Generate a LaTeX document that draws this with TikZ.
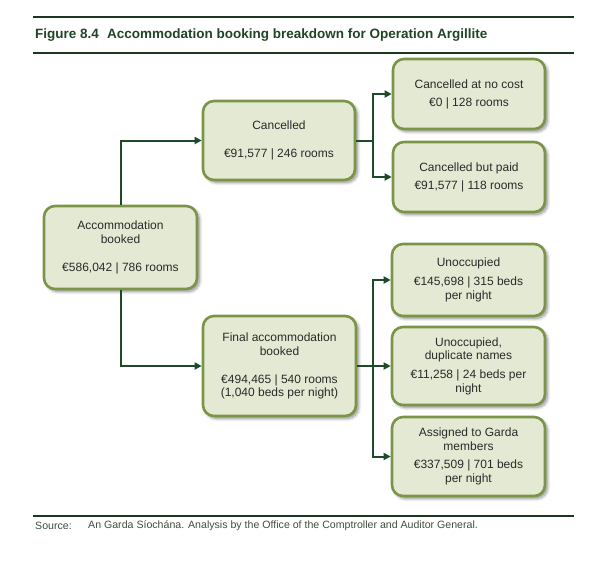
\documentclass[tikz,border=0pt]{standalone}
\usepackage{fontspec}
\setmainfont{Liberation Sans}
\usetikzlibrary{arrows.meta,shadows.blur}
\definecolor{boxfill}{HTML}{E4E9D3}
\definecolor{boxborder}{HTML}{7A9448}
\definecolor{conn}{HTML}{1F4A2A}
\definecolor{rulecol}{HTML}{1C3620}
\definecolor{titlecol}{HTML}{1F4526}
\definecolor{boxtext}{HTML}{2A2A2A}
\definecolor{srccol}{HTML}{3E4E40}
\tikzset{
  box/.style={draw=boxborder, line width=2.6pt, fill=boxfill, rounded corners=11pt,
    align=center, inner sep=2pt, text=boxtext,
    font=\fontsize{12}{13.5}\selectfont,
    blur shadow={shadow xshift=2.5pt, shadow yshift=-2.5pt, shadow blur radius=3pt, shadow blur steps=8, shadow opacity=45}},
  conn/.style={draw=conn, line width=2pt, -{Triangle[length=7pt,width=7pt]}},
  connplain/.style={draw=conn, line width=2pt},
  hrule/.style={draw=rulecol, line width=2.2pt},
}
\begin{document}
\begin{tikzpicture}[x=1pt,y=-1pt]
\useasboundingbox (0,0) rectangle (614,562);
% rules
\coordinate (r1a) at (33,17); \coordinate (r1b) at (574,17);
\coordinate (r2a) at (33,53); \coordinate (r2b) at (574,53);
\coordinate (r3a) at (33,516); \coordinate (r3b) at (574,516);
\draw[hrule] (r1a) -- (r1b);
\draw[hrule] (r2a) -- (r2b);
\draw[hrule] (r3a) -- (r3b);
\node[anchor=west, inner sep=0, text=titlecol, font=\bfseries\fontsize{13.5}{15}\selectfont] (title) at (35,35) {Figure 8.4\hspace{0.6em}Accommodation booking breakdown for Operation Argillite};
\node[anchor=west, inner sep=0, text=srccol, font=\fontsize{10.6}{12}\selectfont] (srclab) at (35,526) {Source:};
\node[anchor=west, inner sep=0, text=srccol, font=\fontsize{10.6}{12}\selectfont] (src) at (88,526) {An Garda Síochána. Analysis by the Office of the Comptroller and Auditor General.};
% boxes
\node[box, minimum width=153pt, minimum height=83pt] (acc) at (120.5,247.5) {Accommodation\\booked\\[14.5pt]€586,042 | 786 rooms};
\node[box, minimum width=152pt, minimum height=79pt] (canc) at (279,140.5) {Cancelled\\[14.5pt]€91,577 | 246 rooms};
\node[box, minimum width=153pt, minimum height=100pt] (fin) at (279.5,366) {Final accommodation\\booked\\[14.5pt]€494,465 | 540 rooms\\(1,040 beds per night)};
\node[box, minimum width=152pt, minimum height=70pt] (nc) at (469,94) {Cancelled at no cost\\[4.5pt]€0 | 128 rooms};
\node[box, minimum width=152pt, minimum height=70pt] (cp) at (469,177) {Cancelled but paid\\[4.5pt]€91,577 | 118 rooms};
\node[box, minimum width=153pt, minimum height=72pt] (un) at (468.5,280) {Unoccupied\\[5.5pt]€145,698 | 315 beds\\per night};
\node[box, minimum width=153pt, minimum height=78pt] (dup) at (468.5,366) {Unoccupied,\\duplicate names\\[5.5pt]€11,258 | 24 beds per\\night};
\node[box, minimum width=153pt, minimum height=79pt] (asg) at (468.5,456.5) {Assigned to Garda\\members\\[5pt]€337,509 | 701 beds\\per night};
% connectors
\draw[conn] (acc.north) |- (canc.west);
\draw[conn] (acc.south) |- (fin.west);
\coordinate (b1) at (373,140.5);
\coordinate (b2) at (373,366);
\draw[connplain] (canc.east) -- (b1);
\draw[conn] (b1) |- (nc.west);
\draw[conn] (b1) |- (cp.west);
\draw[connplain] (fin.east) -- (b2);
\draw[conn] (b2) |- (un.west);
\draw[conn] (b2) -- (dup.west);
\draw[conn] (b2) |- (asg.west);
\end{tikzpicture}
\end{document}
